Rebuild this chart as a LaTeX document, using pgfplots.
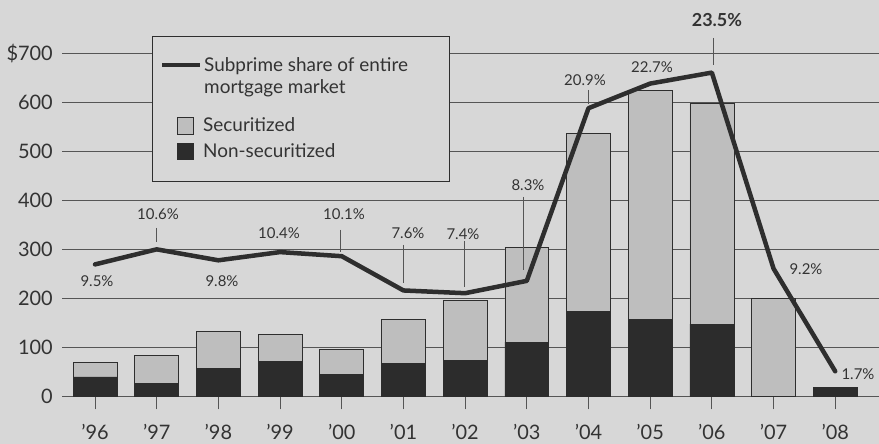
\documentclass[border=0pt]{standalone}
\usepackage{fontspec}
\setmainfont{Lato}
\usepackage{pgfplots}
\pgfplotsset{compat=1.18}
\definecolor{bg}{HTML}{D7D7D7}
\definecolor{lightbar}{HTML}{BEBEBE}
\definecolor{darkbar}{HTML}{2C2C2C}
\definecolor{ink}{HTML}{2E2E2E}
\definecolor{gridc}{HTML}{555555}
\definecolor{txt}{HTML}{333333}

\pgfplotstableread{
x dark light
0 40 30
1 27 57
2 57 76
3 72 55
4 45 51
5 68 89
6 74 123
7 111 194
8 174 364
9 157 468
10 148 450
11 0 200
12 18 0
}\bars

\pgfplotstableread{
x share
0 9.5
1 10.6
2 9.8
3 10.4
4 10.1
5 7.6
6 7.4
7 8.3
8 20.9
9 22.7
10 23.5
11 9.2
12 1.7
}\share

\begin{document}
\begin{tikzpicture}
\fill[bg] (0,0) rectangle (879bp,444bp);
\begin{axis}[
  at={(62bp,47.5bp)}, anchor=south west,
  scale only axis, width=817bp, height=342.8bp,
  xmin=-0.535, xmax=12.71, ymin=0, ymax=700,
  ybar stacked, bar width=0.713,
  axis line style={draw=none},
  ymajorgrids, grid style={gridc, line width=0.8bp},
  ytick={0,100,...,700},
  yticklabels={0,100,200,300,400,500,600,\$700},
  xtick={0,...,12},
  xticklabels={’96,’97,’98,’99,’00,’01,’02,’03,’04,’05,’06,’07,’08},
  xtick pos=bottom, ytick pos=left,
  tick align=outside, major tick length=13bp,
  ytick style={draw=none},
  xtick style={gridc, line width=0.8bp},
  /pgf/number format/assume math mode=true,
  yticklabel style={font=\fontsize{20}{24}\selectfont, text=txt, anchor=east, inner sep=0pt, xshift=4bp},
  xticklabel style={font=\fontsize{20}{24}\selectfont, text=txt, anchor=north, inner sep=0pt, yshift=-14.5bp},
  clip=false,
]
\addplot[fill=darkbar, draw=darkbar, line width=0.6bp] table[x=x, y=dark] {\bars};
\addplot[fill=lightbar, draw=ink, line width=0.6bp] table[x=x, y=light] {\bars};
\end{axis}

\begin{axis}[
  at={(62bp,47.5bp)}, anchor=south west,
  scale only axis, width=817bp, height=342.8bp,
  xmin=-0.535, xmax=12.71, ymin=-0.14, ymax=24.88,
  hide axis, clip=false,
]
\addplot[ink, line width=4.5bp, line join=round, line cap=round] table[x=x, y=share] {\share};
\end{axis}

\begin{scope}[x=1bp, y=1bp, every node/.style={text=txt, font=\fontsize{15}{18}\selectfont, inner sep=0pt}]
% annotations
\node at (97,163) {9.5\%};
\node at (158,230) {10.6\%};
\draw[gridc, line width=0.8bp] (156,216) -- (156,202);
\node at (222,163) {9.8\%};
\node at (279,211) {10.4\%};
\node at (344,230) {10.1\%};
\draw[gridc, line width=0.8bp] (340,214) -- (340,192);
\node at (408,211) {7.6\%};
\draw[gridc, line width=0.8bp] (403,199) -- (403,161);
\node at (463,210) {7.4\%};
\draw[gridc, line width=0.8bp] (464,203) -- (464,157);
\node at (528,259) {8.3\%};
\draw[gridc, line width=0.8bp] (523,247) -- (523,174);
\node at (585,364) {20.9\%};
\draw[gridc, line width=0.8bp] (588,354) -- (588,340);
\node at (652,377) {22.7\%};
\node[font=\fontsize{18}{21}\selectfont\bfseries] at (717,424) {23.5\%};
\draw[gridc, line width=0.8bp] (713,406) -- (713,379);
\node at (806,175) {9.2\%};
\node at (858,70) {1.7\%};
% legend
\filldraw[fill=bg, draw=ink, line width=0.8bp] (152,408) rectangle (449,263);
\draw[ink, line width=4.5bp] (162,379) -- (200,379);
\node[anchor=base west, font=\fontsize{19}{22}\selectfont] at (204,372.3) {Subprime share of entire};
\node[anchor=base west, font=\fontsize{19}{22}\selectfont] at (204,351) {mortgage market};
\filldraw[fill=lightbar, draw=ink, line width=0.6bp] (177,326.7) rectangle (193,310);
\node[anchor=base west, font=\fontsize{19}{22}\selectfont] at (203,312.3) {Securitized};
\filldraw[fill=darkbar, draw=darkbar, line width=0.6bp] (177,300.7) rectangle (193,284.7);
\node[anchor=base west, font=\fontsize{19}{22}\selectfont] at (203,286.3) {Non-securitized};
\end{scope}
\pgfresetboundingbox
\useasboundingbox (0,0) rectangle (879bp,444bp);
\end{tikzpicture}
\end{document}
